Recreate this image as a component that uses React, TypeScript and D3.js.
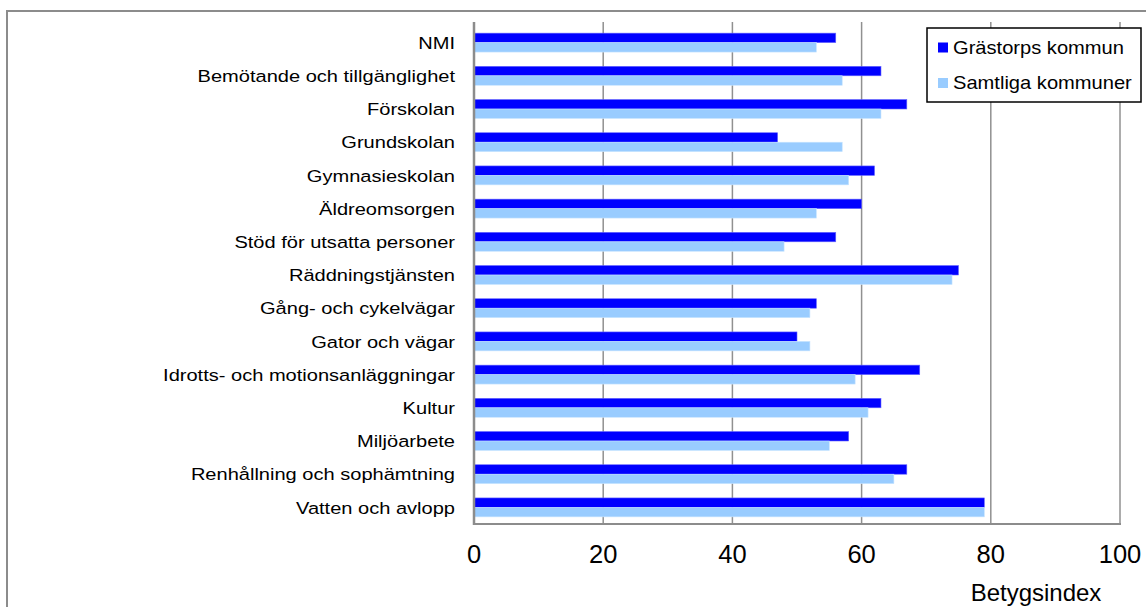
import React from "react";
import * as d3 from "d3";

const categories = [
  "NMI",
  "Bemötande och tillgänglighet",
  "Förskolan",
  "Grundskolan",
  "Gymnasieskolan",
  "Äldreomsorgen",
  "Stöd för utsatta personer",
  "Räddningstjänsten",
  "Gång- och cykelvägar",
  "Gator och vägar",
  "Idrotts- och motionsanläggningar",
  "Kultur",
  "Miljöarbete",
  "Renhållning och sophämtning",
  "Vatten och avlopp",
];
const grastorp = [56, 63, 67, 47, 62, 60, 56, 75, 53, 50, 69, 63, 58, 67, 79];
const samtliga = [53, 57, 63, 57, 58, 53, 48, 74, 52, 52, 59, 61, 55, 65, 79];
const seriesNames = ["Grästorps kommun", "Samtliga kommuner"];
const seriesColors = ["#0000FF", "#99CCFF"];
const xTicks = [0, 20, 40, 60, 80, 100];
const xTitle = "Betygsindex";

export default function App() {
  const W = 1146, H = 607;
  const left = 474, right = 1120, top = 26, bottom = 524;
  const x = d3.scaleLinear().domain([0, 100]).range([left, right]);
  const y = d3.scaleBand<string>().domain(categories).range([top, bottom]).paddingInner(0.43).paddingOuter(0.215);
  const inner = d3.scaleBand<string>().domain(seriesNames).range([0, y.bandwidth()]);
  const data = [grastorp, samtliga];
  const font = "'Liberation Sans', Arial, sans-serif";
  const legendY = [47.5, 83];

  return (
    <svg width={W} height={H} style={{ position: "absolute", left: 0, top: 0, background: "#fff" }} fontFamily={font}>
      <rect x={7} y={11} width={W + 10} height={H + 10} fill="#fff" stroke="#8c8c8c" strokeWidth={2} />
      {xTicks.filter(t => t > 0 && t < 100).map(t => (
        <line key={t} x1={x(t)} x2={x(t)} y1={top - 4} y2={bottom} stroke="#909090" strokeWidth={1.5} />
      ))}
      {categories.map((c, i) => (
        <g key={c}>
          {data.map((s, k) => (
            <rect key={k} x={x(0)} y={(y(c) as number) + (inner(seriesNames[k]) as number)} width={x(s[i]) - x(0)} height={inner.bandwidth()} fill={seriesColors[k]} stroke={k === 0 ? "#6666ff" : "#c8e4ff"} strokeWidth={0.6} />
          ))}
          <text transform={`translate(455,${(y(c) as number) + y.bandwidth() / 2}) scale(1.18,1)`} dy="0.36em" textAnchor="end" fontSize={17} fill="#000">{c}</text>
        </g>
      ))}
      <line x1={right} x2={right} y1={top - 4} y2={bottom} stroke="#909090" strokeWidth={1.5} />
      <line x1={left} x2={right + 1} y1={bottom} y2={bottom} stroke="#8c8c8c" strokeWidth={2} />
      <line x1={left} x2={left} y1={top - 4} y2={bottom + 1} stroke="#8c8c8c" strokeWidth={2.5} />
      {xTicks.map(t => (
        <text key={t} x={x(t)} y={554} dy="0.36em" textAnchor="middle" fontSize={25.5} fill="#000">{t}</text>
      ))}
      <text x={1036} y={592} dy="0.36em" textAnchor="middle" fontSize={24} fill="#000">{xTitle}</text>
      <g>
        <rect x={927} y={28} width={214} height={74} fill="#fff" stroke="#000" strokeWidth={1.5} />
        {seriesNames.map((n, k) => (
          <g key={n}>
            <rect x={938} y={legendY[k] - 5} width={10} height={10} fill={seriesColors[k]} />
            <text transform={`translate(953,${legendY[k]}) scale(1.15,1)`} dy="0.36em" fontSize={17.5} fill="#000">{n}</text>
          </g>
        ))}
      </g>
    </svg>
  );
}
